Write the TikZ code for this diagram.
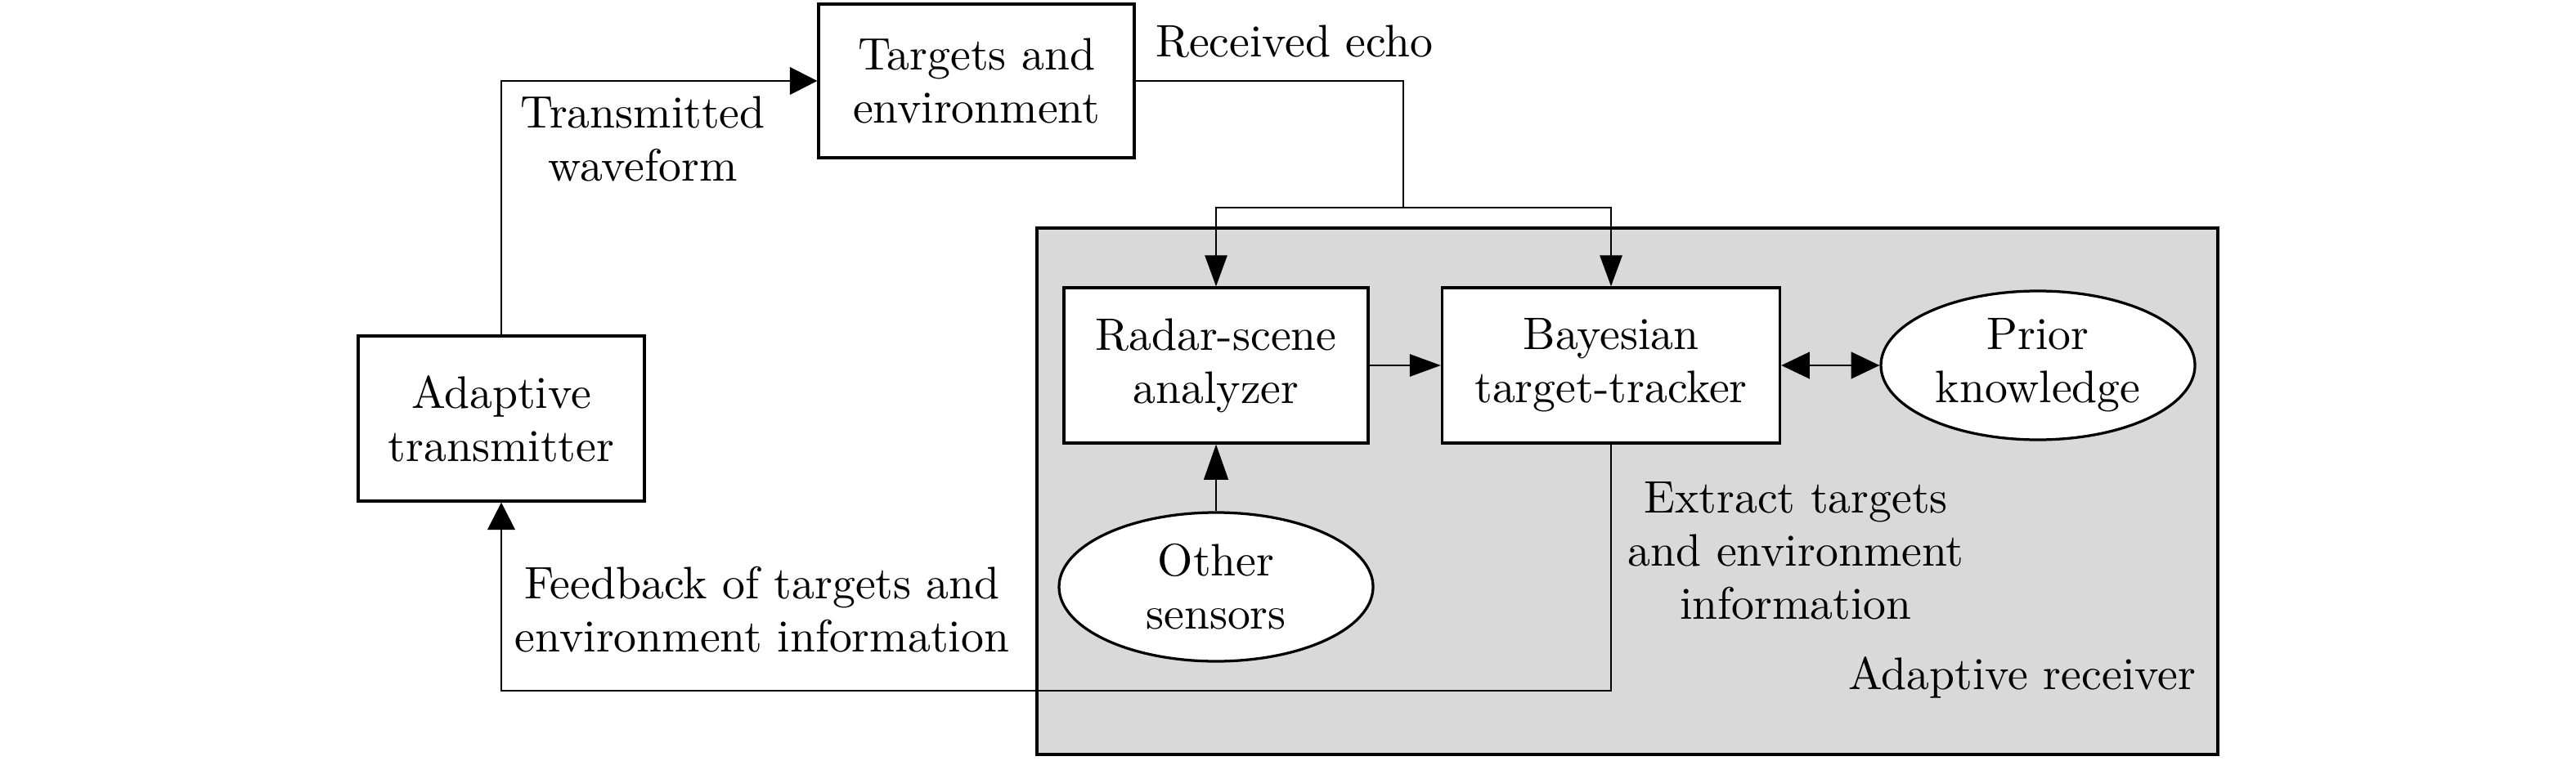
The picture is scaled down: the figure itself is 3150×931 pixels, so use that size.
\documentclass[tikz,border=0pt]{standalone}
\usetikzlibrary{arrows.meta,shapes.geometric}
\begin{document}
\begin{tikzpicture}[x=0.1845pt,y=-0.1845pt,
  every node/.style={font=\fontsize{10.28}{12}\selectfont},
  box/.style={draw,line width=0.6pt,fill=white,align=center,inner sep=0pt},
  oval/.style={ellipse,draw,line width=0.6pt,fill=white,align=center,inner sep=0pt,
    minimum width=384*0.1845pt,minimum height=182*0.1845pt},
  lbl/.style={align=center,inner sep=0pt},
  conn/.style={line width=0.45pt},
  arr/.style={conn,-{Triangle[length=7pt,width=5pt]}},
  bigarr/.style={conn,-{Triangle[length=6.2pt,width=6.2pt]}},
  dbl/.style={conn,{Triangle[length=6.4pt,width=6pt]}-{Triangle[length=6.4pt,width=6pt]}}]
\useasboundingbox (0,0) rectangle (3150,931);
% adaptive receiver area
\draw[line width=0.6pt,fill=black!15] (1268,279) rectangle (2712,923);
\node[lbl,anchor=east] (rcv) at (2686,829) {Adaptive receiver};
% blocks
\node[box,minimum width=386*0.1845pt,minimum height=188*0.1845pt] (tgt) at (1194,99) {Targets and\\environment};
\node[box,minimum width=350*0.1845pt,minimum height=202*0.1845pt] (tx) at (613,512) {Adaptive\\transmitter};
\node[box,minimum width=372*0.1845pt,minimum height=190*0.1845pt] (radar) at (1487,447) {Radar-scene\\analyzer};
\node[box,minimum width=413*0.1845pt,minimum height=190*0.1845pt] (bayes) at (1970,447) {Bayesian\\target-tracker};
\node[oval] (prior) at (2492,447) {Prior\\knowledge};
\node[oval] (other) at (1487,718) {Other\\sensors};
% connectors
\draw[bigarr] (tx.north) |- (tgt.west);
\coordinate (split) at (1716,254);
\draw[conn] (tgt.east) -| (split);
\draw[arr] (split) -| (radar.north);
\draw[arr] (split) -| (bayes.north);
\draw[arr] (radar) -- (bayes);
\draw[dbl] (bayes) -- (prior);
\draw[conn,-{Triangle[length=8pt,width=5.5pt]}] (other) -- (radar);
\coordinate (fb) at (613,845);
\draw[bigarr] (bayes.south) |- (fb) -- (tx.south);
% labels
\node[lbl,anchor=base west] (echo) at (1412,70) {Received echo};
\node[lbl] (txw) at (786,170) {Transmitted\\waveform};
\node[lbl] (fbl) at (932,746) {Feedback of targets and\\environment information};
\node[lbl] (ext) at (2196,674) {Extract targets\\and environment\\information};
\end{tikzpicture}
\end{document}
